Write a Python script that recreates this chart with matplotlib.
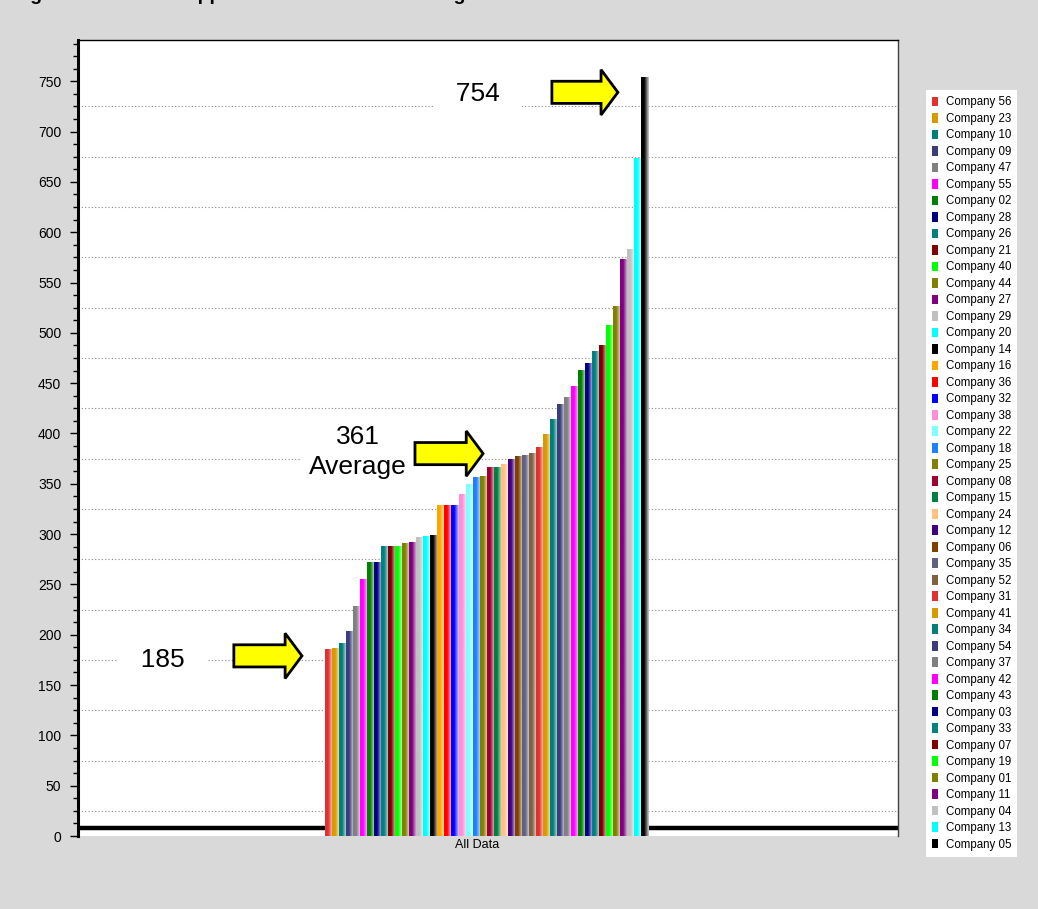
import numpy as np
import matplotlib
matplotlib.use("Agg")
import matplotlib.pyplot as plt
import matplotlib.colors as mcolors
from matplotlib.patches import FancyArrow, Patch
from matplotlib.ticker import MultipleLocator

plt.rcParams["font.family"] = ["Liberation Sans", "DejaVu Sans"]

# companies in ranked order (lowest to highest)
companies = [
    "Company 56", "Company 23", "Company 10", "Company 09", "Company 47",
    "Company 55", "Company 02", "Company 28", "Company 26", "Company 21",
    "Company 40", "Company 44", "Company 27", "Company 29", "Company 20",
    "Company 14", "Company 16", "Company 36", "Company 32", "Company 38",
    "Company 22", "Company 18", "Company 25", "Company 08", "Company 15",
    "Company 24", "Company 12", "Company 06", "Company 35", "Company 52",
    "Company 31", "Company 41", "Company 34", "Company 54", "Company 37",
    "Company 42", "Company 43", "Company 03", "Company 33", "Company 07",
    "Company 19", "Company 01", "Company 11", "Company 04", "Company 13",
    "Company 05",
]
values = [
    185, 186, 191, 203, 228, 255, 272, 272, 288, 288,
    288, 291, 292, 297, 298, 299, 328, 328, 328, 339,
    349, 356, 357, 366, 366, 369, 374, 377, 378, 380,
    386, 399, 414, 429, 436, 447, 463, 470, 481, 487,
    507, 526, 573, 583, 673, 754,
]
palette = [
    "#E0312F", "#D99A00", "#007F7A", "#3C3C7A", "#808080",
    "#FF00FF", "#008000", "#000080", "#008080", "#800000",
    "#00FF00", "#808000", "#800080", "#C0C0C0", "#00FFFF",
    "#000000", "#FFA500", "#FF0000", "#0000FF", "#FF8ED8",
    "#80FFFF", "#1E7FFF", "#808000", "#A00030", "#008040",
    "#FFC080", "#400080", "#804000", "#606080", "#806040",
]
colors = [palette[i % len(palette)] for i in range(len(companies))]
category = "All Data"
average_value = 361


def shaded(color, n=40):
    # solid on the left, washing out toward the right edge
    rgb = np.array(mcolors.to_rgb(color))
    t = np.linspace(0, 1, n)
    f = np.clip((t - 0.4) / 0.6, 0, 1) * 0.8
    return (rgb[None, :] * (1 - f[:, None]) + f[:, None])[None, :, :]


fig = plt.figure(figsize=(10.38, 9.09), dpi=100, facecolor="#D9D9D9")
ax = fig.add_axes([78 / 1038, 1 - 836 / 909, 820 / 1038, 796 / 909])
ax.set_facecolor("white")

x = np.arange(len(values))
bars = ax.bar(x, values, width=1.0, color=colors, edgecolor="none", zorder=2)
for patch, c in zip(bars.patches, colors):
    x0, w, h = patch.get_x(), patch.get_width(), patch.get_height()
    ax.imshow(shaded(c), extent=(x0, x0 + w, 0, h), aspect="auto",
              interpolation="bilinear", zorder=2.1)

ax.set_xlim(-35.7, 81.1)
ax.set_ylim(0, 791)

# dotted guides halfway between the labelled ticks
for g in np.arange(25, 751, 50):
    ax.axhline(g, color="#8A8A8A", lw=0.8, ls=(0, (1, 2)), zorder=1)
ax.axhline(8, color="black", lw=3.2, zorder=1.5)

ax.yaxis.set_major_locator(MultipleLocator(50))
ax.yaxis.set_minor_locator(MultipleLocator(12.5))
ax.tick_params(axis="y", which="major", direction="out", length=6, width=1,
               labelsize=10, pad=6)
ax.tick_params(axis="y", which="minor", direction="out", length=3.5, width=1)
ax.set_xticks([21.2])
ax.set_xticklabels([category])
ax.tick_params(axis="x", length=0, labelsize=9, pad=2)

ax.spines["left"].set_linewidth(2.2)
ax.spines["top"].set_linewidth(1)
ax.spines["right"].set_linewidth(1)
ax.spines["right"].set_color("#404040")
ax.spines["bottom"].set_visible(False)

# callouts: minimum, average, maximum
box = dict(boxstyle="square,pad=0.3", fc="white", ec="none")
ax.text(21.2, 737, f"  {max(values)}  ", fontsize=19, ha="center",
        va="center", bbox=box, zorder=3)
ax.text(4.2, 382, f"{average_value}\nAverage", fontsize=19, ha="center",
        va="center", linespacing=1.32, bbox=box, zorder=3)
ax.text(-23.6, 175, f"  {min(values)}  ", fontsize=19, ha="center",
        va="center", bbox=box, zorder=3)

arrow_kw = dict(width=22, head_width=45, head_length=2.4,
                length_includes_head=True, fc="#FFFF00", ec="black",
                lw=2, zorder=4)
for tail, tip, level in [(31.8, 41.2, 739), (12.3, 22.0, 380), (-13.5, -3.8, 179)]:
    ax.add_patch(FancyArrow(tail, level, tip - tail, 0, **arrow_kw))

handles = [Patch(facecolor=c, edgecolor="none") for c in colors]
fig.legend(handles, companies, loc="upper left",
           bbox_to_anchor=(926 / 1038, 1 - 90 / 909), frameon=True,
           facecolor="white", edgecolor="none", fancybox=False, framealpha=1,
           fontsize=8.3, handlelength=0.45, handleheight=0.9,
           handletextpad=0.7, labelspacing=0.39, borderpad=0.55,
           borderaxespad=0)

fig.text(0.006, 1.0, "Avg Lead Time to Supplier Order Received Rating",
         fontsize=14, fontweight="bold", va="baseline")

fig.savefig("out.png", dpi=100, facecolor=fig.get_facecolor())
